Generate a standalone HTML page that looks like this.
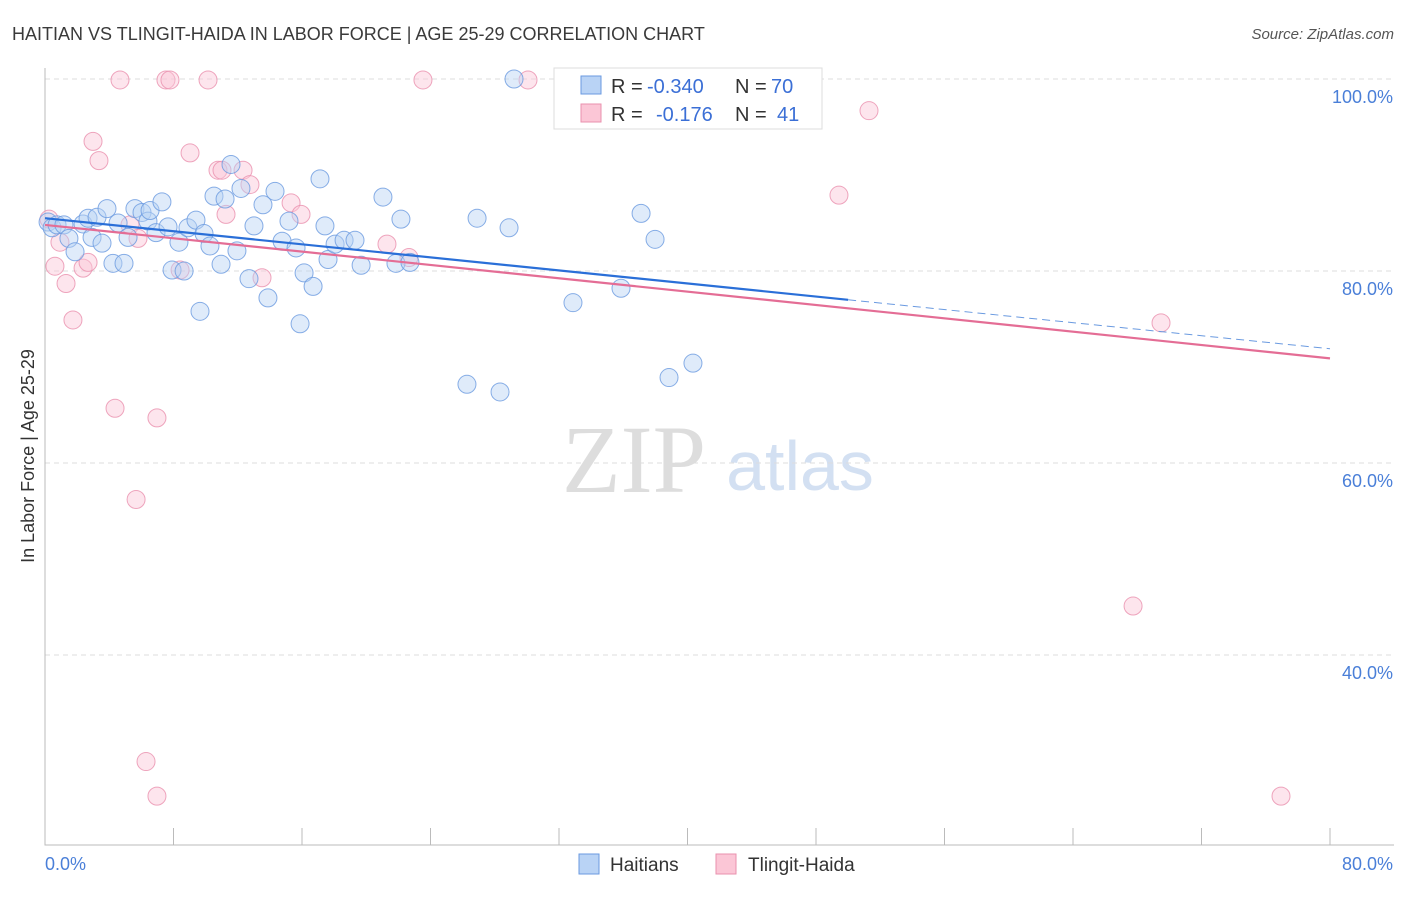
<!DOCTYPE html>
<html><head><meta charset="utf-8"><style>
body{margin:0;background:#fff;font-family:"Liberation Sans",sans-serif}
#c{position:relative;width:1406px;height:892px}
</style></head><body>
<div id="c">
<svg id="s" width="1406" height="892">
<text x="12" y="40" font-size="18" fill="#3a3a3a">HAITIAN VS TLINGIT-HAIDA IN LABOR FORCE | AGE 25-29 CORRELATION CHART</text>
<text x="1394" y="39" font-size="15" fill="#555" text-anchor="end" font-style="italic">Source: ZipAtlas.com</text>
<text x="634" y="492" font-size="96" fill="#ddd" font-family="Liberation Serif" text-anchor="middle">ZIP</text>
<text x="800" y="490" font-size="70" fill="#d3e0f2" text-anchor="middle">atlas</text>
<text transform="translate(34,456) rotate(-90)" font-size="18" fill="#333" text-anchor="middle">In Labor Force | Age 25-29</text>
<g id="grid"></g><g id="marks"></g>
<g>
<rect x="554" y="68" width="268" height="61" fill="#fff" stroke="#ddd"/>
<rect x="581" y="76" width="20" height="18" fill="#b9d3f5" stroke="#6a9ae0"/>
<rect x="581" y="104" width="20" height="18" fill="#fbc6d6" stroke="#ea90ae"/>
<text x="611" y="93" font-size="20" fill="#333">R =</text>
<text x="647" y="93" font-size="20" fill="#3b6fd6">-0.340</text>
<text x="735" y="93" font-size="20" fill="#333">N =</text>
<text x="771" y="93" font-size="20" fill="#3b6fd6">70</text>
<text x="611" y="121" font-size="20" fill="#333">R =</text>
<text x="656" y="121" font-size="20" fill="#3b6fd6">-0.176</text>
<text x="735" y="121" font-size="20" fill="#333">N =</text>
<text x="777" y="121" font-size="20" fill="#3b6fd6">41</text>
</g>
<g>
<rect x="579" y="854" width="20" height="20" fill="#b9d3f5" stroke="#6a9ae0"/>
<text x="610" y="871" font-size="19" fill="#333">Haitians</text>
<rect x="716" y="854" width="20" height="20" fill="#fbc6d6" stroke="#ea90ae"/>
<text x="748" y="871" font-size="19" fill="#333">Tlingit-Haida</text>
</g>
</svg></div>
<script>
const yTicks=[100,80,60,40];
const yTickLabels=["100.0%","80.0%","60.0%","40.0%"];
const xTickLabels=["0.0%","80.0%"];
const blueX=[0.19,0.44,0.75,1.18,1.49,1.87,2.37,2.68,2.93,3.24,3.55,3.86,4.23,4.55,4.92,5.17,5.60,6.04,6.41,6.54,6.91,7.28,7.66,7.91,8.34,8.66,8.90,9.40,9.65,9.90,10.27,10.52,10.96,11.21,11.58,11.95,12.20,12.70,13.01,13.57,13.88,14.32,14.76,15.19,15.63,15.88,16.13,16.69,17.12,17.43,17.62,18.06,18.62,19.30,19.68,21.04,21.85,22.16,22.72,26.27,26.90,28.33,28.89,32.87,35.86,37.11,37.98,38.85,40.34,29.2];
const blueY=[85.1,84.5,84.8,84.8,83.4,82.0,84.9,85.5,83.5,85.6,82.9,86.5,80.8,85.0,80.8,83.5,86.5,86.1,85.2,86.3,84.0,87.2,84.6,80.1,83.0,80.0,84.5,85.3,75.8,83.9,82.6,87.8,80.7,87.5,91.1,82.1,88.6,79.2,84.7,86.9,77.2,88.3,83.1,85.2,82.4,74.5,79.8,78.4,89.6,84.7,81.2,82.8,83.2,83.2,80.6,87.7,80.8,85.4,80.9,68.2,85.5,67.4,84.5,76.7,78.2,86.0,83.3,68.9,70.4,100];
const pinkX=[0.25,0.62,0.93,1.31,1.74,2.37,2.68,2.99,3.36,4.36,4.67,5.29,5.67,6.29,6.97,6.97,7.53,7.78,8.41,9.03,10.15,10.77,11.02,11.27,12.33,12.76,15.32,15.94,21.29,22.66,23.53,30.07,36.67,44.83,49.43,51.30,67.74,69.48,76.95,5.79,13.51];
const pinkY=[85.4,80.5,83.0,78.7,74.9,80.3,80.9,93.5,91.5,65.7,99.9,84.8,56.2,28.9,64.7,25.3,99.9,99.9,80.1,92.3,99.9,90.5,90.5,85.9,90.5,89.0,87.1,85.9,82.8,81.4,99.9,99.9,99.9,96.7,87.9,96.7,45.1,74.6,25.3,83.4,79.3];
const blueTrend=[85.5,71.9];
const pinkTrend=[84.8,70.9];
const blueSolidEnd=50;
const X=v=>45+v/80*1285, Y=v=>79+(100-v)*9.6;
const NS="http://www.w3.org/2000/svg";
function mk(t,a,p){const e=document.createElementNS(NS,t);for(const k in a)e.setAttribute(k,a[k]);p.appendChild(e);return e;}
const g=document.getElementById('grid'), m=document.getElementById('marks');
yTicks.forEach((t,i)=>{
 const l=mk('line',{x1:45,x2:1394,y1:Y(t),y2:Y(t),stroke:'#ddd','stroke-dasharray':'5,4'},g);
 
 
 const tx=mk('text',{x:1393,y:Y(t)+24,'font-size':18,fill:'#4a7fd8','text-anchor':'end'},g);
 tx.textContent=yTickLabels[i];
 
 
});
const ax=mk('path',{d:'M45,68V845H1394',stroke:'#bbb',fill:'none'},g);


for(let i=1;i<=10;i++){const t=mk('line',{x1:X(i*8),x2:X(i*8),y1:828,y2:845,stroke:'#bbb'},g);
 
 }
xTickLabels.forEach((s,i)=>{const t=mk('text',{x:i?1393:45,y:870,'font-size':18,fill:'#4a7fd8','text-anchor':i?'end':'start'},g);t.textContent=s;
 
 });
function pts(xs,ys,f,s,n){xs.forEach((x,i)=>{const c=mk('circle',{cx:X(x),cy:Y(ys[i]),r:9,fill:f,'fill-opacity':0.45,stroke:s,'stroke-width':1,'stroke-opacity':0.8},m);
 
 });}
pts(pinkX,pinkY,'#fbc6d6','#ea90ae','tlingit-point');
pts(blueX,blueY,'#b9d3f5','#6a9ae0','haitian-point');
const yb=x=>blueTrend[0]+(blueTrend[1]-blueTrend[0])*x/80;
let l=mk('line',{x1:X(0),y1:Y(blueTrend[0]),x2:X(blueSolidEnd),y2:Y(yb(blueSolidEnd)),stroke:'#2a6fd8','stroke-width':2.2},m);


l=mk('line',{x1:X(blueSolidEnd),y1:Y(yb(blueSolidEnd)),x2:X(80),y2:Y(blueTrend[1]),stroke:'#6a9ae0','stroke-width':1,'stroke-dasharray':'8,5'},m);


l=mk('line',{x1:X(0),y1:Y(pinkTrend[0]),x2:X(80),y2:Y(pinkTrend[1]),stroke:'#e46d95','stroke-width':2.2},m);


</script></body></html>
